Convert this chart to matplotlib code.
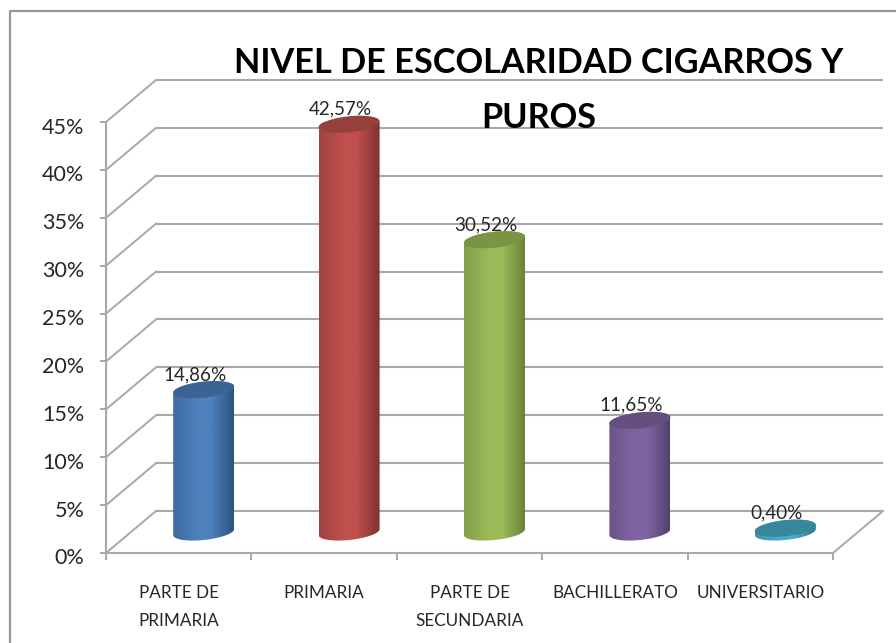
import numpy as np
import matplotlib
matplotlib.use("Agg")
import matplotlib.pyplot as plt
from matplotlib.colors import LinearSegmentedColormap
from matplotlib.lines import Line2D
from matplotlib.patches import Polygon
from matplotlib.transforms import ScaledTranslation

categories = ["PARTE DE\nPRIMARIA", "PRIMARIA", "PARTE DE\nSECUNDARIA", "BACHILLERATO", "UNIVERSITARIO"]
values = [14.86, 42.57, 30.52, 11.65, 0.40]
value_labels = ["14,86%", "42,57%", "30,52%", "11,65%", "0,40%"]
y_ticks = [0, 5, 10, 15, 20, 25, 30, 35, 40, 45]
y_tick_labels = ["0%", "5%", "10%", "15%", "20%", "25%", "30%", "35%", "40%", "45%"]
side_colors = ["#4F81BD", "#C0504D", "#9BBB59", "#8064A2", "#4BACC6"]
left_colors = ["#3F6A9E", "#A04341", "#82A04A", "#6B5488", "#3E93AA"]
edge_colors = ["#2F5280", "#7F3230", "#66803A", "#54406E", "#317A8E"]
top_colors = ["#3B6494", "#96403D", "#7A9444", "#644F80", "#36869C"]

W, H = 896, 643
plt.rcParams["font.family"] = ["Lato", "DejaVu Sans"]
fig = plt.figure(figsize=(W / 100, H / 100), dpi=100)
L, R, B, T = 106, 833, 553, 122
ax = fig.add_axes([L / W, 1 - B / H, (R - L) / W, (B - T) / H])
ax.set_xlim(0, 5)
ax.set_ylim(0, 45)
ax.patch.set_alpha(0)

px_x = 5 / (R - L)
px_y = 45 / (B - T)
depth_x = 50 * px_x
depth_y = 42 * px_y
GRID = "#A8A8A8"
TXT = "#262626"

for t in y_ticks:
    ax.plot([depth_x, 5 + depth_x], [t + depth_y] * 2, color=GRID, lw=1.5, clip_on=False, zorder=1, solid_capstyle="butt")
    ax.plot([0, depth_x], [t, t + depth_y], color=GRID, lw=1.4, clip_on=False, zorder=1)
ax.plot([5, 5 + depth_x], [0, depth_y], color=GRID, lw=1.4, clip_on=False, zorder=1)

for s in ["top", "right"]:
    ax.spines[s].set_visible(False)
for s in ["left", "bottom"]:
    ax.spines[s].set_color(GRID)
    ax.spines[s].set_linewidth(1.5)
    ax.spines[s].set_zorder(2)

ax.set_yticks(y_ticks, y_tick_labels, fontsize=15.5, color=TXT)
ax.set_xticks(np.arange(0, 6))
ax.set_xticklabels([])
ax.set_xticks(np.arange(5) + 0.5, categories, minor=True, fontsize=12.3, color=TXT, linespacing=1.95)
ax.tick_params(axis="y", length=4.5, width=1.4, color=GRID, pad=11)
ax.tick_params(axis="x", which="major", length=5, width=1.4, color=GRID)
ax.tick_params(axis="x", which="minor", length=0, pad=23)
down = ScaledTranslation(0, -3.5 / 100, fig.dpi_scale_trans)
for lab in ax.get_yticklabels():
    lab.set_transform(lab.get_transform() + down)

a, b, tilt = 30.5, 8.0, 0.10
theta = np.linspace(0, 2 * np.pi, 181)
grad = np.linspace(0, 1, 256).reshape(1, -1)


def ring(cx, cy, angles):
    return np.column_stack([
        cx + a * np.cos(angles) * px_x,
        cy + (b * np.sin(angles) + tilt * a * np.cos(angles)) * px_y,
    ])


for i, (v, lab) in enumerate(zip(values, value_labels)):
    cx = i + 0.5 + depth_x / 2
    base = depth_y / 2
    top = base + v
    cmap = LinearSegmentedColormap.from_list(
        f"cyl{i}", [(0, left_colors[i]), (0.4, side_colors[i]), (0.62, side_colors[i]), (1, edge_colors[i])], N=256)
    lower = ring(cx, base, np.linspace(np.pi, 2 * np.pi, 91))
    upper = ring(cx, top, np.linspace(0, np.pi, 91))
    body = Polygon(np.vstack([lower, upper]), closed=True, transform=ax.transData, fc="none", ec="none")
    ax.add_patch(body)
    im = ax.imshow(grad, cmap=cmap, aspect="auto", zorder=3, interpolation="bilinear",
                   extent=[cx - a * px_x, cx + a * px_x, base - 12 * px_y - 4, top + 12 * px_y + 4])
    im.set_clip_path(body)
    im.set_clip_on(True)
    ax.add_patch(Polygon(ring(cx, top, theta), closed=True, fc=top_colors[i], ec="none", zorder=4, clip_on=False))
    ax.annotate(lab, (cx, top), xytext=(-6, 11), textcoords="offset points", ha="center", va="center",
                fontsize=13.6, color=TXT, zorder=5, annotation_clip=False)

ax.set_xlim(0, 5)
ax.set_ylim(0, 45)

fig.text(539 / W, 1 - 90.5 / H, "NIVEL DE ESCOLARIDAD CIGARROS Y\nPUROS", ha="center", va="center",
         fontsize=24.7, fontweight="bold", color="#000000", linespacing=1.9)

fig.add_artist(Line2D([W, 10, 10], [H - 11, H - 11, 0], transform=None, color="#969696", lw=1.6))
fig.savefig("out.png", dpi=100)
